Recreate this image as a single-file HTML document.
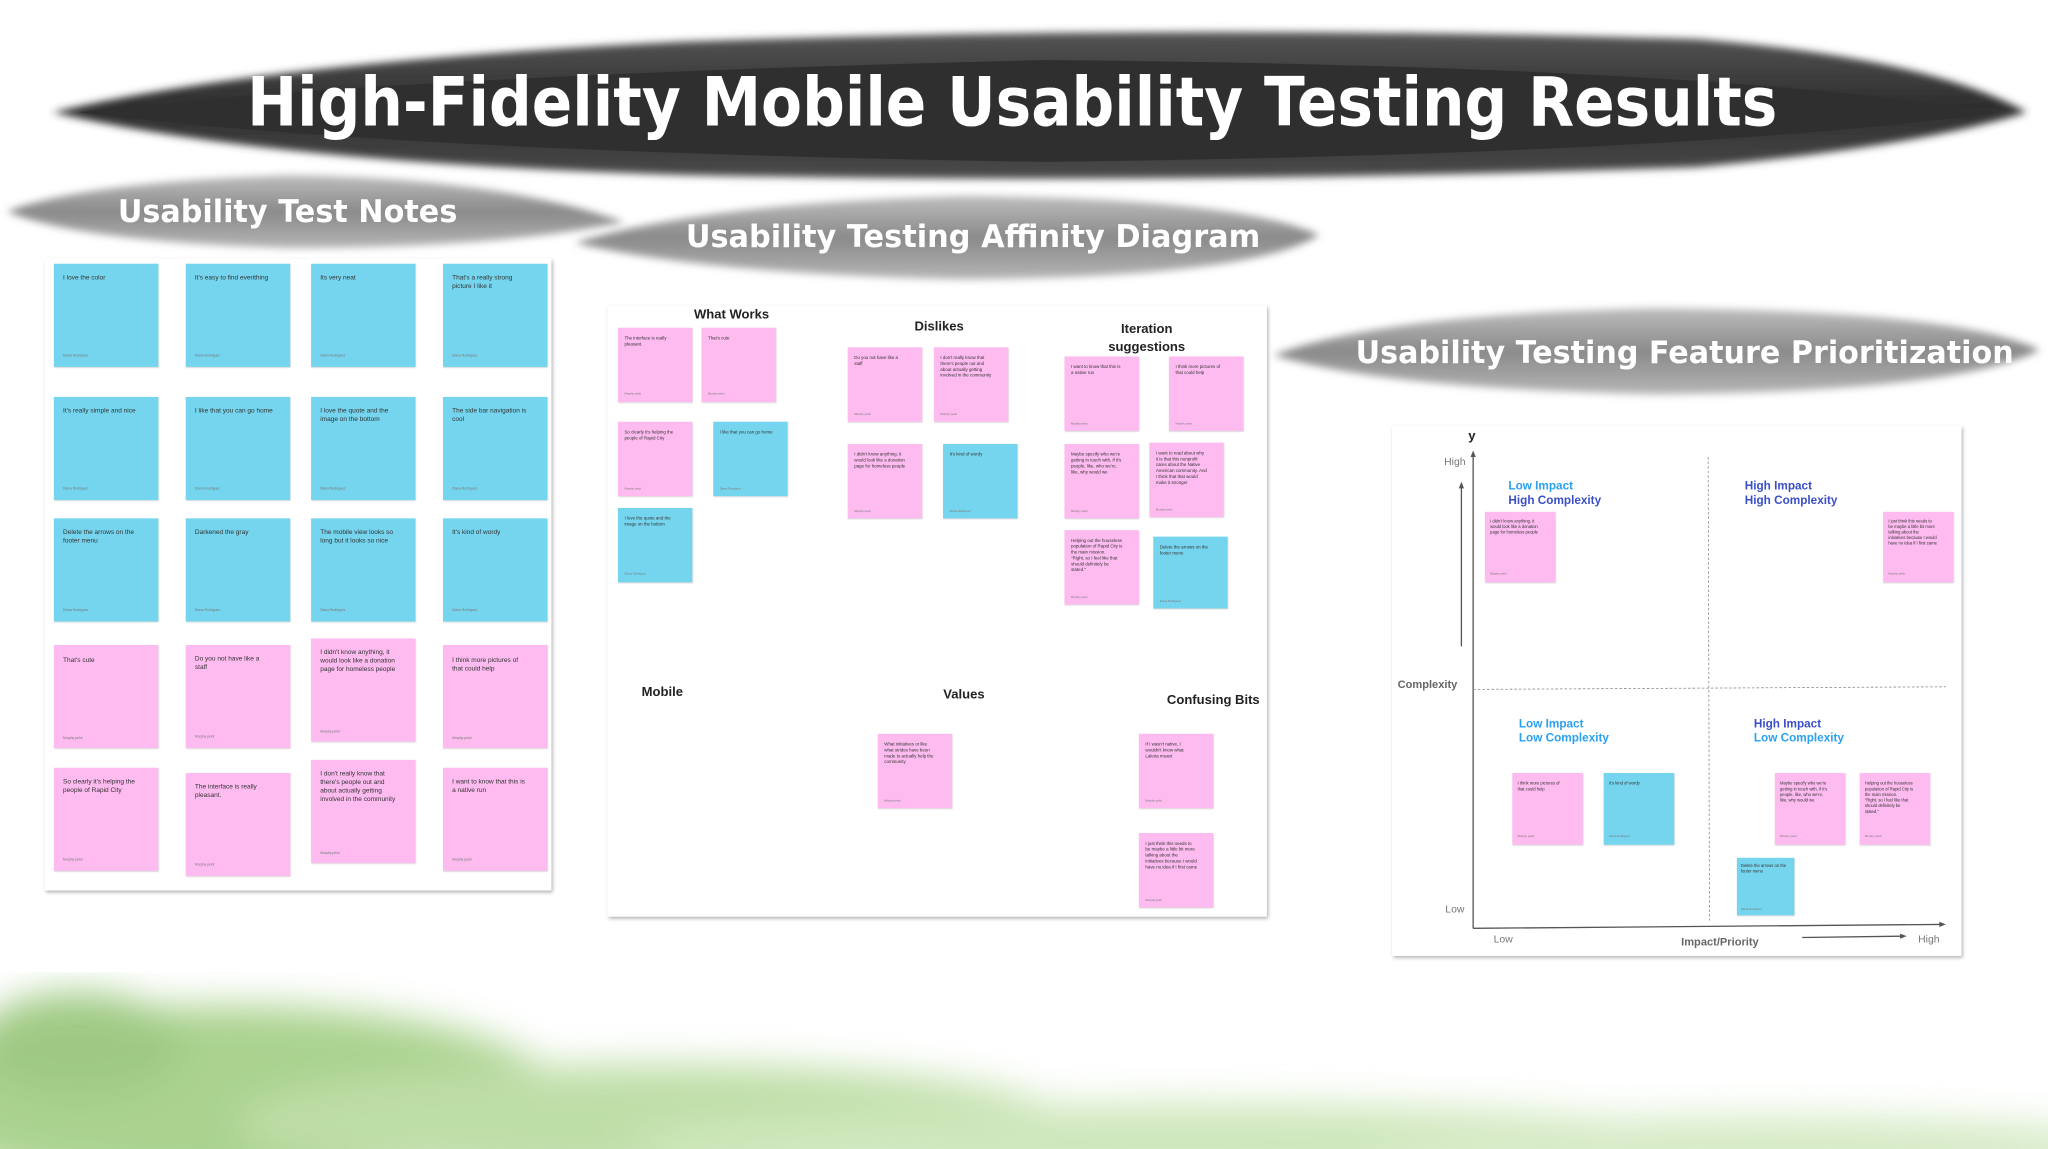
<!DOCTYPE html>
<html><head><meta charset="utf-8"><style>
html,body{margin:0;padding:0;background:#fff;width:2048px;height:1149px;overflow:hidden}
svg{display:block}
.t{font-family:"Liberation Sans",sans-serif;fill:#222}
.n{font-family:"Liberation Sans",sans-serif;font-size:5px;fill:#333}
.a{font-family:"Liberation Sans",sans-serif;font-size:2.6px;fill:#777}
.h{font-family:"Liberation Sans",sans-serif;font-weight:bold;font-size:10px;fill:#222;text-anchor:middle}
.q{font-family:"Liberation Sans",sans-serif;font-weight:bold;font-size:9px}
</style></head><body>
<svg width="2048" height="1149" viewBox="0 0 1568 880" xmlns="http://www.w3.org/2000/svg">
<defs>
<filter id="bl"><feGaussianBlur stdDeviation="3"/></filter>
<filter id="bl2"><feGaussianBlur stdDeviation="14"/></filter>
<filter id="sh" x="-5%" y="-5%" width="110%" height="110%"><feDropShadow dx="1" dy="1.5" stdDeviation="1.5" flood-color="#000" flood-opacity="0.3"/></filter>
<filter id="ns"><feDropShadow dx="0.3" dy="0.6" stdDeviation="0.5" flood-color="#000" flood-opacity="0.2"/></filter>
<linearGradient id="gb" x1="0" y1="0" x2="0" y2="1"><stop offset="0" stop-color="#bdbdbd"/><stop offset="0.5" stop-color="#8a8a8a"/><stop offset="1" stop-color="#b5b5b5"/></linearGradient>
<linearGradient id="gd" x1="0" y1="0" x2="0" y2="1"><stop offset="0" stop-color="#555"/><stop offset="0.5" stop-color="#2e2e2e"/><stop offset="1" stop-color="#4a4a4a"/></linearGradient>
</defs>

<!-- green wash -->
<g filter="url(#bl2)" opacity="0.75">
<ellipse cx="170" cy="840" rx="260" ry="70" fill="#8fc46a"/>
<ellipse cx="500" cy="860" rx="320" ry="45" fill="#a9d38a"/>
<ellipse cx="900" cy="875" rx="420" ry="30" fill="#bfe0a6"/>
<ellipse cx="1350" cy="880" rx="300" ry="25" fill="#c8e4b2"/>
<ellipse cx="60" cy="800" rx="80" ry="40" fill="#7fb85a"/>
</g>

<!-- title brush -->
<path d="M40,86 Q200,48 520,32 Q900,18 1300,30 Q1480,45 1552,86 Q1470,112 1300,128 Q900,142 520,134 Q200,124 40,86 Z" fill="url(#gd)" filter="url(#bl)"/>
<path d="M60,86 Q300,58 800,46 Q1300,50 1530,86 Q1300,118 800,124 Q300,116 60,86 Z" fill="#2f2f2f"/>
<text x="775" y="96" text-anchor="middle" textLength="1172" lengthAdjust="spacingAndGlyphs" style="font-family:'DejaVu Sans','Liberation Sans',sans-serif;font-weight:bold;font-size:52px;fill:#fff">High-Fidelity Mobile Usability Testing Results</text>

<!-- section brushes -->
<path d="M5,162 Q60,140 220,134 Q380,136 478,170 Q380,190 220,190 Q60,185 5,162 Z" fill="url(#gb)" filter="url(#bl)"/>
<text x="220" y="170" text-anchor="middle" textLength="260" lengthAdjust="spacingAndGlyphs" style="font-family:'DejaVu Sans','Liberation Sans',sans-serif;font-weight:bold;font-size:24px;fill:#fff">Usability Test Notes</text>

<path d="M440,186 Q540,155 740,150 Q950,152 1010,180 Q960,212 740,214 Q540,210 440,186 Z" fill="url(#gb)" filter="url(#bl)"/>
<text x="745" y="189" text-anchor="middle" textLength="440" lengthAdjust="spacingAndGlyphs" style="font-family:'DejaVu Sans','Liberation Sans',sans-serif;font-weight:bold;font-size:24px;fill:#fff">Usability Testing Affinity Diagram</text>

<path d="M975,272 Q1060,240 1270,236 Q1500,238 1562,268 Q1500,300 1270,302 Q1060,298 975,272 Z" fill="url(#gb)" filter="url(#bl)"/>
<text x="1290" y="278" text-anchor="middle" textLength="504" lengthAdjust="spacingAndGlyphs" style="font-family:'DejaVu Sans','Liberation Sans',sans-serif;font-weight:bold;font-size:24px;fill:#fff">Usability Testing Feature Prioritization</text>

<!-- Left panel -->
<rect x="34" y="198" width="388" height="484" fill="#fff" filter="url(#sh)"/>
<g filter="url(#ns)">
<rect x="41" y="202" width="80" height="79" fill="#74d5ee"/>
<rect x="142" y="202" width="80" height="79" fill="#74d5ee"/>
<rect x="238" y="202" width="80" height="79" fill="#74d5ee"/>
<rect x="339" y="202" width="80" height="79" fill="#74d5ee"/>
<rect x="41" y="304" width="80" height="79" fill="#74d5ee"/>
<rect x="142" y="304" width="80" height="79" fill="#74d5ee"/>
<rect x="238" y="304" width="80" height="79" fill="#74d5ee"/>
<rect x="339" y="304" width="80" height="79" fill="#74d5ee"/>
<rect x="41" y="397" width="80" height="79" fill="#74d5ee"/>
<rect x="142" y="397" width="80" height="79" fill="#74d5ee"/>
<rect x="238" y="397" width="80" height="79" fill="#74d5ee"/>
<rect x="339" y="397" width="80" height="79" fill="#74d5ee"/>
<rect x="41" y="494" width="80" height="79" fill="#fdbbf0"/>
<rect x="142" y="494" width="80" height="79" fill="#fdbbf0"/>
<rect x="238" y="489" width="80" height="79" fill="#fdbbf0"/>
<rect x="339" y="494" width="80" height="79" fill="#fdbbf0"/>
<rect x="41" y="588" width="80" height="79" fill="#fdbbf0"/>
<rect x="142" y="592" width="80" height="79" fill="#fdbbf0"/>
<rect x="238" y="582" width="80" height="79" fill="#fdbbf0"/>
<rect x="339" y="588" width="80" height="79" fill="#fdbbf0"/>
</g>
<g class="n">
<text x="48" y="214">I love the color</text>
<text x="149" y="214">It's easy to find everithing</text>
<text x="245" y="214">Its very neat</text>
<text x="346" y="214">That's a really strong<tspan x="346" dy="6.5">picture I like it</tspan></text>
<text x="48" y="316">It's really simple and nice</text>
<text x="149" y="316">I like that you can go home</text>
<text x="245" y="316">I love the quote and the<tspan x="245" dy="6.5">image on the bottom</tspan></text>
<text x="346" y="316">The side bar navigation is<tspan x="346" dy="6.5">cool</tspan></text>
<text x="48" y="409">Delete the arrows on the<tspan x="48" dy="6.5">footer menu</tspan></text>
<text x="149" y="409">Darkened the gray</text>
<text x="245" y="409">The mobile view looks so<tspan x="245" dy="6.5">long but it looks so nice</tspan></text>
<text x="346" y="409">It's kind of wordy</text>
<text x="48" y="507">That's cute</text>
<text x="149" y="506">Do you not have like a<tspan x="149" dy="6.5">staff</tspan></text>
<text x="245" y="501">I didn't know anything, it<tspan x="245" dy="6.5">would look like a donation</tspan><tspan x="245" dy="6.5">page for homeless people</tspan></text>
<text x="346" y="507">I think more pictures of<tspan x="346" dy="6.5">that could help</tspan></text>
<text x="48" y="600">So clearly it's helping the<tspan x="48" dy="6.5">people of Rapid City</tspan></text>
<text x="149" y="604">The interface is really<tspan x="149" dy="6.5">pleasant.</tspan></text>
<text x="245" y="594">I don't really know that<tspan x="245" dy="6.5">there's people out and</tspan><tspan x="245" dy="6.5">about actually getting</tspan><tspan x="245" dy="6.5">involved in the community</tspan></text>
<text x="346" y="600">I want to know that this is<tspan x="346" dy="6.5">a native run</tspan></text>
</g>
<g class="a">
<text x="48" y="273">Diana Rodriguez</text><text x="149" y="273">Diana Rodriguez</text><text x="245" y="273">Diana Rodriguez</text><text x="346" y="273">Diana Rodriguez</text>
<text x="48" y="375">Diana Rodriguez</text><text x="149" y="375">Diana Rodriguez</text><text x="245" y="375">Diana Rodriguez</text><text x="346" y="375">Diana Rodriguez</text>
<text x="48" y="468">Diana Rodriguez</text><text x="149" y="468">Diana Rodriguez</text><text x="245" y="468">Diana Rodriguez</text><text x="346" y="468">Diana Rodriguez</text>
<text x="48" y="566">Murphy pelot</text><text x="149" y="565">Murphy pelot</text><text x="245" y="561">Murphy pelot</text><text x="346" y="566">Murphy pelot</text>
<text x="48" y="659">Murphy pelot</text><text x="149" y="663">Murphy pelot</text><text x="245" y="654">Murphy pelot</text><text x="346" y="659">Murphy pelot</text>
</g>

<!-- Affinity panel -->
<rect x="465" y="234" width="505" height="468" fill="#fff" filter="url(#sh)"/>
<text class="h" x="560" y="244">What Works</text>
<text class="h" x="719" y="253">Dislikes</text>
<text class="h" x="878" y="255">Iteration</text>
<text class="h" x="878" y="269">suggestions</text>
<text class="h" x="507" y="533">Mobile</text>
<text class="h" x="738" y="535">Values</text>
<text class="h" x="929" y="539">Confusing Bits</text>
<g filter="url(#ns)">
<rect x="473" y="251" width="57" height="57" fill="#fdbbf0"/>
<rect x="537" y="251" width="57" height="57" fill="#fdbbf0"/>
<rect x="473" y="323" width="57" height="57" fill="#fdbbf0"/>
<rect x="546" y="323" width="57" height="57" fill="#74d5ee"/>
<rect x="473" y="389" width="57" height="57" fill="#74d5ee"/>
<rect x="649" y="266" width="57" height="57" fill="#fdbbf0"/>
<rect x="715" y="266" width="57" height="57" fill="#fdbbf0"/>
<rect x="649" y="340" width="57" height="57" fill="#fdbbf0"/>
<rect x="722" y="340" width="57" height="57" fill="#74d5ee"/>
<rect x="815" y="273" width="57" height="57" fill="#fdbbf0"/>
<rect x="895" y="273" width="57" height="57" fill="#fdbbf0"/>
<rect x="815" y="340" width="57" height="57" fill="#fdbbf0"/>
<rect x="880" y="339" width="57" height="57" fill="#fdbbf0"/>
<rect x="815" y="406" width="57" height="57" fill="#fdbbf0"/>
<rect x="883" y="411" width="57" height="55" fill="#74d5ee"/>
<rect x="672" y="562" width="57" height="57" fill="#fdbbf0"/>
<rect x="872" y="562" width="57" height="57" fill="#fdbbf0"/>
<rect x="872" y="638" width="57" height="57" fill="#fdbbf0"/>
</g>
<g class="n" style="font-size:3.4px">
<text x="478" y="260">The interface is really<tspan x="478" dy="4.5">pleasant.</tspan></text>
<text x="542" y="260">That's cute</text>
<text x="478" y="332">So clearly it's helping the<tspan x="478" dy="4.5">people of Rapid City</tspan></text>
<text x="551" y="332">I like that you can go home</text>
<text x="478" y="398">I love the quote and the<tspan x="478" dy="4.5">image on the bottom</tspan></text>
<text x="654" y="275">Do you not have like a<tspan x="654" dy="4.5">staff</tspan></text>
<text x="720" y="275">I don't really know that<tspan x="720" dy="4.5">there's people out and</tspan><tspan x="720" dy="4.5">about actually getting</tspan><tspan x="720" dy="4.5">involved in the community</tspan></text>
<text x="654" y="349">I didn't know anything, it<tspan x="654" dy="4.5">would look like a donation</tspan><tspan x="654" dy="4.5">page for homeless people</tspan></text>
<text x="727" y="349">It's kind of wordy</text>
<text x="820" y="282">I want to know that this is<tspan x="820" dy="4.5">a native run</tspan></text>
<text x="900" y="282">I think more pictures of<tspan x="900" dy="4.5">that could help</tspan></text>
<text x="820" y="349">Maybe specify who we're<tspan x="820" dy="4.5">getting in touch with, if it's</tspan><tspan x="820" dy="4.5">people, like, who we're,</tspan><tspan x="820" dy="4.5">like, why would we</tspan></text>
<text x="885" y="348">I want to read about why<tspan x="885" dy="4.5">it is that this nonprofit</tspan><tspan x="885" dy="4.5">cares about the Native</tspan><tspan x="885" dy="4.5">American community. And</tspan><tspan x="885" dy="4.5">I think that that would</tspan><tspan x="885" dy="4.5">make it stronger</tspan></text>
<text x="820" y="415">Helping out the houseless<tspan x="820" dy="4.5">population of Rapid City is</tspan><tspan x="820" dy="4.5">the main mission.</tspan><tspan x="820" dy="4.5">"Right, so I feel like that</tspan><tspan x="820" dy="4.5">should definitely be</tspan><tspan x="820" dy="4.5">stated."</tspan></text>
<text x="888" y="420">Delete the arrows on the<tspan x="888" dy="4.5">footer menu</tspan></text>
<text x="677" y="571">What initiatives or like<tspan x="677" dy="4.5">what strides have been</tspan><tspan x="677" dy="4.5">made to actually help the</tspan><tspan x="677" dy="4.5">community</tspan></text>
<text x="877" y="571">If I wasn't native, I<tspan x="877" dy="4.5">wouldn't know what</tspan><tspan x="877" dy="4.5">Lakota meant</tspan></text>
<text x="877" y="647">I just think this needs to<tspan x="877" dy="4.5">be maybe a little bit more</tspan><tspan x="877" dy="4.5">talking about the</tspan><tspan x="877" dy="4.5">initiatives because I would</tspan><tspan x="877" dy="4.5">have no idea if I first came</tspan></text>
</g>
<g class="a" style="font-size:2.2px">
<text x="478" y="302">Murphy pelot</text><text x="542" y="302">Murphy pelot</text><text x="478" y="375">Murphy pelot</text><text x="551" y="375">Diana Rodriguez</text><text x="478" y="440">Diana Rodriguez</text>
<text x="654" y="318">Murphy pelot</text><text x="720" y="318">Murphy pelot</text><text x="654" y="392">Murphy pelot</text><text x="727" y="392">Diana Rodriguez</text>
<text x="820" y="325">Murphy pelot</text><text x="900" y="325">Murphy pelot</text><text x="820" y="392">Murphy pelot</text><text x="885" y="391">Murphy pelot</text><text x="820" y="458">Murphy pelot</text><text x="888" y="461">Diana Rodriguez</text>
<text x="677" y="614">Murphy pelot</text><text x="877" y="614">Murphy pelot</text><text x="877" y="690">Murphy pelot</text>
</g>

<!-- Prioritization panel -->
<rect x="1066" y="326" width="436" height="406" fill="#fff" filter="url(#sh)"/>
<g stroke="#555" stroke-width="1" fill="none">
<line x1="1128" y1="349" x2="1128" y2="711"/>
<line x1="1128" y1="711" x2="1486" y2="708"/>
<line x1="1119" y1="495" x2="1119" y2="373"/>
<line x1="1380" y1="718" x2="1456" y2="717"/>
</g>
<g fill="#555">
<path d="M1128,345 l-2,5 h4 z"/>
<path d="M1490,708 l-5,-2 v4 z"/>
<path d="M1119,369 l-2,5 h4 z"/>
<path d="M1460,717 l-5,-2 v4 z"/>
</g>
<g stroke="#888" stroke-width="0.6" stroke-dasharray="2,1.5">
<line x1="1128" y1="528" x2="1490" y2="526"/>
<line x1="1308" y1="350" x2="1309" y2="705"/>
</g>
<g class="t">
<text x="1127" y="337" text-anchor="middle" style="font-weight:bold;font-size:10px;fill:#222">y</text>
<text x="1114" y="356" text-anchor="middle" style="font-size:8px;fill:#777">High</text>
<text x="1114" y="699" text-anchor="middle" style="font-size:8px;fill:#777">Low</text>
<text x="1093" y="527" text-anchor="middle" style="font-weight:bold;font-size:8.5px;fill:#666">Complexity</text>
<text x="1151" y="722" text-anchor="middle" style="font-size:8px;fill:#777">Low</text>
<text x="1317" y="724" text-anchor="middle" style="font-weight:bold;font-size:8.5px;fill:#666">Impact/Priority</text>
<text x="1477" y="722" text-anchor="middle" style="font-size:8px;fill:#777">High</text>
</g>
<text class="q" x="1155" y="375" fill="#2aa0f0">Low Impact</text>
<text class="q" x="1155" y="386" fill="#3a4ec8">High Complexity</text>
<text class="q" x="1336" y="375" fill="#3a4ec8">High Impact</text>
<text class="q" x="1336" y="386" fill="#3a4ec8">High Complexity</text>
<text class="q" x="1163" y="557" fill="#2aa0f0">Low Impact</text>
<text class="q" x="1163" y="568" fill="#2aa0f0">Low Complexity</text>
<text class="q" x="1343" y="557" fill="#3a4ec8">High Impact</text>
<text class="q" x="1343" y="568" fill="#2aa0f0">Low Complexity</text>
<g filter="url(#ns)">
<rect x="1137" y="392" width="54" height="54" fill="#fdbbf0"/>
<rect x="1442" y="392" width="54" height="54" fill="#fdbbf0"/>
<rect x="1158" y="592" width="54" height="55" fill="#fdbbf0"/>
<rect x="1228" y="592" width="54" height="55" fill="#74d5ee"/>
<rect x="1359" y="592" width="54" height="55" fill="#fdbbf0"/>
<rect x="1424" y="592" width="54" height="55" fill="#fdbbf0"/>
<rect x="1330" y="657" width="44" height="44" fill="#74d5ee"/>
</g>
<g class="n" style="font-size:3.2px">
<text x="1141" y="400">I didn't know anything, it<tspan x="1141" dy="4.3">would look like a donation</tspan><tspan x="1141" dy="4.3">page for homeless people</tspan></text>
<text x="1446" y="400">I just think this needs to<tspan x="1446" dy="4.3">be maybe a little bit more</tspan><tspan x="1446" dy="4.3">talking about the</tspan><tspan x="1446" dy="4.3">initiatives because I would</tspan><tspan x="1446" dy="4.3">have no idea if I first came</tspan></text>
<text x="1162" y="601">I think more pictures of<tspan x="1162" dy="4.3">that could help</tspan></text>
<text x="1232" y="601">It's kind of wordy</text>
<text x="1363" y="601">Maybe specify who we're<tspan x="1363" dy="4.3">getting in touch with, if it's</tspan><tspan x="1363" dy="4.3">people, like, who we're,</tspan><tspan x="1363" dy="4.3">like, why would we</tspan></text>
<text x="1428" y="601">Helping out the houseless<tspan x="1428" dy="4.3">population of Rapid City is</tspan><tspan x="1428" dy="4.3">the main mission.</tspan><tspan x="1428" dy="4.3">"Right, so I feel like that</tspan><tspan x="1428" dy="4.3">should definitely be</tspan><tspan x="1428" dy="4.3">stated."</tspan></text>
<text x="1333" y="664">Delete the arrows on the<tspan x="1333" dy="4.3">footer menu</tspan></text>
</g>
<g class="a" style="font-size:2.2px">
<text x="1141" y="440">Murphy pelot</text><text x="1446" y="440">Murphy pelot</text>
<text x="1162" y="641">Murphy pelot</text><text x="1232" y="641">Diana Rodriguez</text>
<text x="1363" y="641">Murphy pelot</text><text x="1428" y="641">Murphy pelot</text>
<text x="1333" y="697">Diana Rodriguez</text>
</g>
</svg>
</body></html>
